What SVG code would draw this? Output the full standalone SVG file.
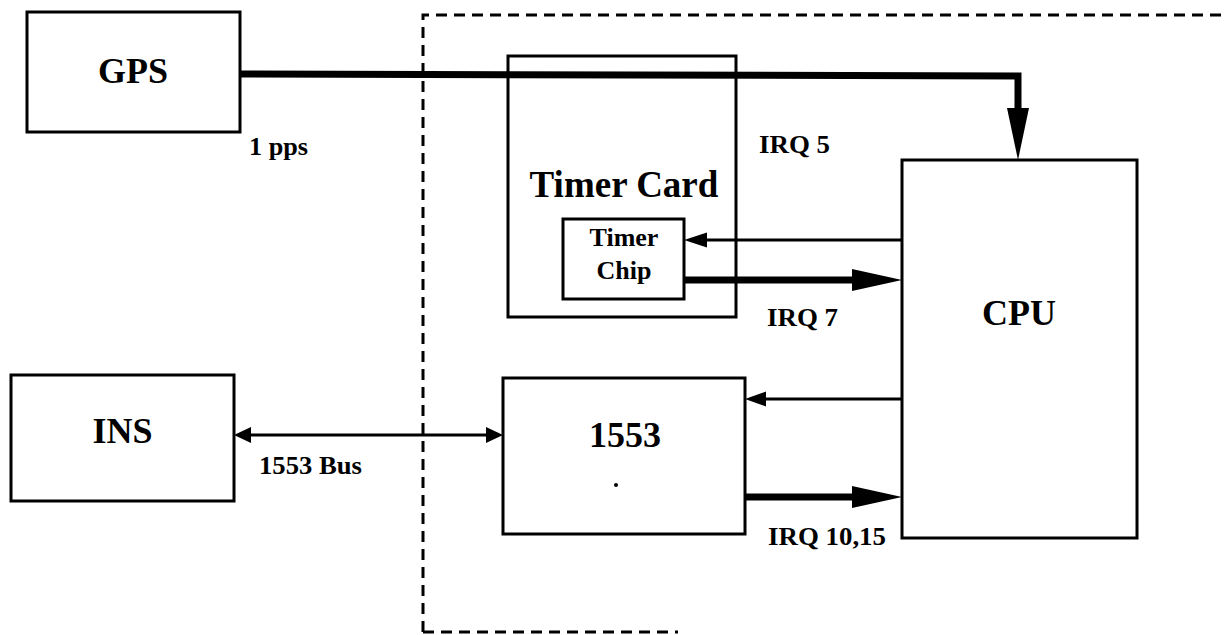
<svg xmlns="http://www.w3.org/2000/svg" width="1228" height="635" viewBox="0 0 1228 635">
<style>
.box{fill:none;stroke:#000;stroke-width:3}
.dash{fill:none;stroke:#000;stroke-width:3;stroke-dasharray:11 7}
.thin{stroke:#000;stroke-width:3;fill:none}
.thick{stroke:#000;stroke-width:7;fill:none;stroke-linejoin:miter}
.head{fill:#000;stroke:none}
text{font-family:"Liberation Serif","Times New Roman",serif;font-weight:bold;fill:#000}
.big{font-size:36px;text-anchor:middle}
.card{font-size:37px;text-anchor:middle}
.chip{font-size:26px;text-anchor:middle}
.lbl{font-size:25px}
</style>
<rect width="1228" height="635" fill="#fff"/>
<g id="boundary"><path class="dash" d="M423,632 V15 H1228 M423,632 H678"/></g>
<g id="connectors">
  <path class="thick" d="M240,74 L1018,76 L1018,112"/>
  <polygon class="head" points="1007,108 1029,108 1018,160"/>
  <path class="thick" d="M684,280 H856"/>
  <polygon class="head" points="852,269 902,280 852,291"/>
  <path class="thin" d="M902,240 H700"/>
  <polygon class="head" points="707,232.5 684,240 707,247.5"/>
  <path class="thin" d="M902,399 H760"/>
  <polygon class="head" points="766,391.5 745,399 766,406.5"/>
  <path class="thick" d="M745,497 H856"/>
  <polygon class="head" points="852,486 902,497 852,508"/>
  <path class="thin" d="M248,435 H488"/>
  <polygon class="head" points="251,427 234,435 251,443"/>
  <polygon class="head" points="486,427 503,435 486,443"/>
  <text class="lbl" x="249" y="155" textLength="59" lengthAdjust="spacingAndGlyphs">1 pps</text>
  <text class="lbl" x="759" y="153" textLength="71" lengthAdjust="spacingAndGlyphs">IRQ 5</text>
  <text class="lbl" x="767" y="326" textLength="71" lengthAdjust="spacingAndGlyphs">IRQ 7</text>
  <text class="lbl" x="259" y="474" textLength="103" lengthAdjust="spacingAndGlyphs">1553 Bus</text>
  <text class="lbl" x="768" y="545" textLength="118" lengthAdjust="spacingAndGlyphs">IRQ 10,15</text>
</g>
<g id="gps"><rect class="box" x="27" y="12" width="213" height="120"/><text class="big" x="133" y="83">GPS</text></g>
<g id="timer-card"><rect class="box" x="508" y="56" width="228" height="261"/><text class="card" x="624" y="197">Timer Card</text></g>
<g id="timer-chip"><rect class="box" x="563" y="219" width="121" height="80"/><text class="chip" x="624" y="246">Timer</text><text class="chip" x="624" y="279">Chip</text></g>
<g id="cpu"><rect class="box" x="902" y="160" width="235" height="378"/><text class="big" x="1019" y="325">CPU</text></g>
<g id="ins"><rect class="box" x="11" y="375" width="223" height="126"/><text class="big" x="122.5" y="443">INS</text></g>
<g id="bus1553"><rect class="box" x="503" y="378" width="242" height="156"/><text class="big" x="625" y="447">1553</text><circle cx="616" cy="485" r="2" fill="#000"/></g>
</svg>
